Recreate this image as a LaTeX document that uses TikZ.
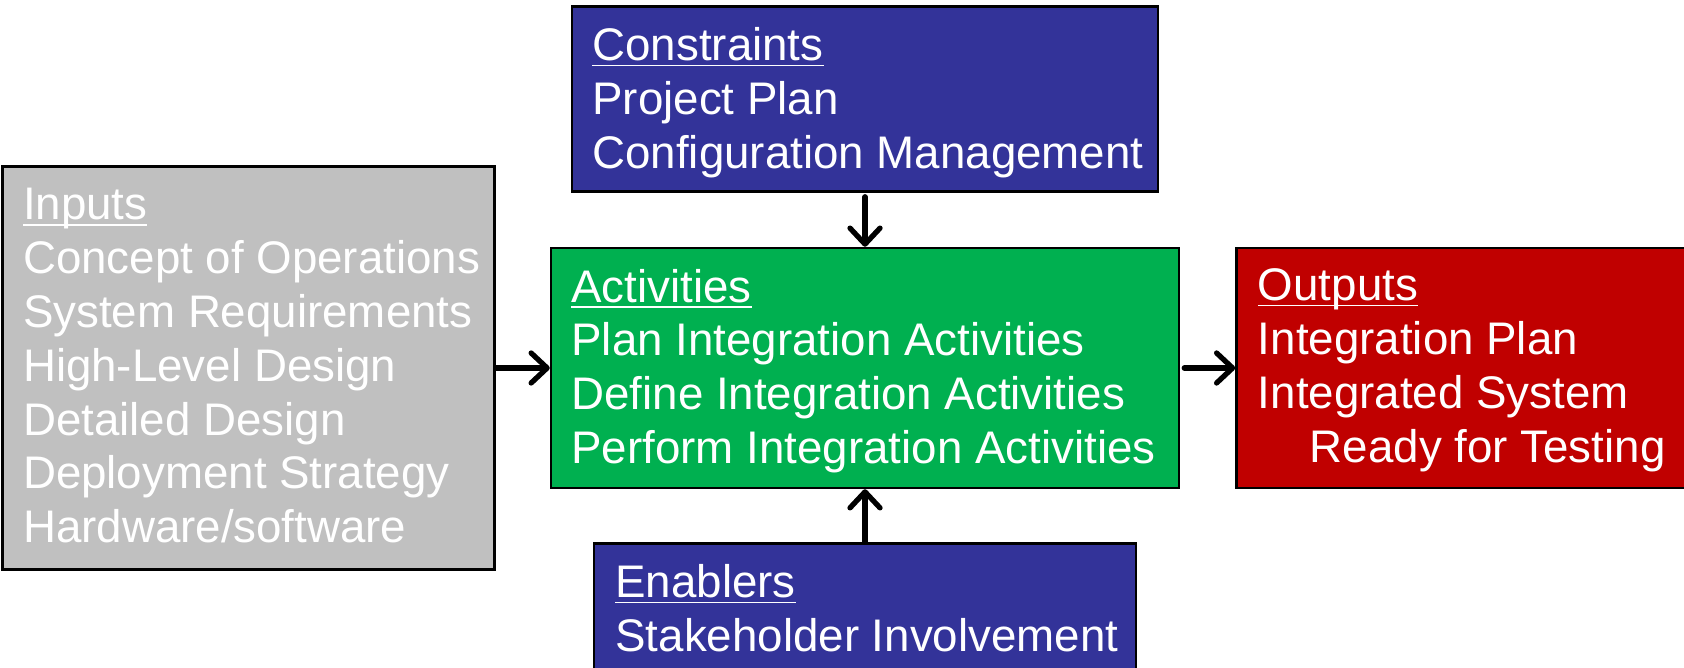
\documentclass[tikz,border=0pt]{standalone}
\usepackage{fontspec}
\setmainfont{Liberation Sans}
\usetikzlibrary{positioning,arrows.meta}

\definecolor{constraintblue}{HTML}{333399}
\definecolor{activitygreen}{HTML}{00B050}
\definecolor{outputred}{HTML}{C00000}
\definecolor{inputgray}{HTML}{C0C0C0}
\newcommand{\heading}[1]{\underline{\raisebox{0pt}[\height][0pt]{#1}}}

\begin{document}
\begin{tikzpicture}
   \tikzstyle{box}=[draw=black, line width=0.7pt, rectangle, inner sep=0pt]
   \tikzstyle{boxtext}=[text=white, align=left, inner sep=0pt, font=\fontsize{13pt}{15.3pt}\selectfont]
   \tikzstyle{flow}=[line width=1.5pt, line cap=round, -{Straight Barb[length=0.16cm, width=0.3cm, round]}]

\useasboundingbox (0,0) rectangle (16.84,6.67);

\node[box, fill=activitygreen, minimum width=6.28cm, minimum height=2.40cm] (activities) at (8.65,2.99) {};
\node[box, fill=inputgray, minimum width=4.92cm, minimum height=4.03cm, left=0.54cm of activities] (inputs) {};
\node[box, fill=outputred, minimum width=4.49cm, minimum height=2.40cm, right=0.55cm of activities] (outputs) {};
\node[box, fill=constraintblue, minimum width=5.86cm, minimum height=1.85cm, above=0.54cm of activities] (constraints) {};
\node[box, fill=constraintblue, minimum width=5.42cm, minimum height=1.60cm, below=0.53cm of activities] (enablers) {};

\node[boxtext, below right=0.225cm and 0.21cm of inputs.north west] (inputlist)
    {\heading{Inputs}\\Concept of Operations\\System Requirements\\High-Level Design\\Detailed Design\\Deployment Strategy\\Hardware/software};
\node[boxtext, below right=0.215cm and 0.21cm of activities.north west] (activitylist)
    {\heading{Activities}\\Plan Integration Activities\\Define Integration Activities\\Perform Integration Activities};
\node[boxtext, below right=0.215cm and 0.22cm of outputs.north west] (outputlist)
    {\heading{Outputs}\\Integration Plan\\Integrated System\\\hspace*{0.52cm}Ready for Testing};
\node[boxtext, below right=0.215cm and 0.21cm of constraints.north west] (constraintlist)
    {\heading{Constraints}\\Project Plan\\Configuration Management};
\node[boxtext, below right=0.215cm and 0.22cm of enablers.north west] (enablerlist)
    {\heading{Enablers}\\Stakeholder Involvement};

\draw[flow] (inputs) -- (activities);
\draw[flow, shorten <=0.04cm] (activities) -- (outputs);
\draw[flow, shorten <=0.04cm] (constraints) -- (activities);
\draw[flow] (enablers) -- (activities);

\end{tikzpicture}
\end{document}
